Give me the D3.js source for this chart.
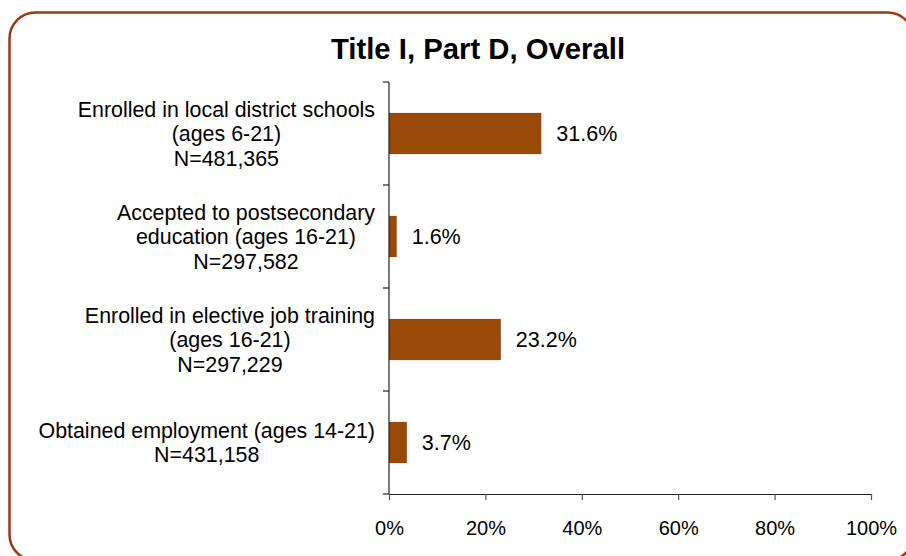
<!DOCTYPE html>
<html>
<head>
<meta charset="utf-8">
<script src="https://cdn.jsdelivr.net/npm/d3@7/dist/d3.min.js"></script>
<style>
  html, body { margin: 0; padding: 0; background: #fff; }
  svg { display: block; font-family: "Liberation Sans", Arial, sans-serif; }
</style>
</head>
<body>
<svg id="chart" width="906" height="556"></svg>
<script>
// Outcome categories (each label split into its display lines)
const categoryLines = [
  ["Enrolled in local district schools", "(ages 6-21)", "N=481,365"],
  ["Accepted to postsecondary", "education (ages 16-21)", "N=297,582"],
  ["Enrolled in elective job training", "(ages 16-21)", "N=297,229"],
  ["Obtained employment (ages 14-21)", "N=431,158"]
];
const categories = ["local", "postsecondary", "jobtraining", "employment"];
const percentValues = [31.6, 1.6, 23.2, 3.7];
const tickValues = [0, 20, 40, 60, 80, 100];
const titleText = "Title I, Part D, Overall";

const svg = d3.select("#chart");
const W = 906, H = 556;
const margin = { top: 82, right: 35, bottom: 62, left: 389 };

// Rounded frame around the whole chart
svg.append("rect")
  .attr("x", 9.5).attr("y", 12.5)
  .attr("width", 904).attr("height", 548)
  .attr("rx", 26).attr("ry", 26)
  .attr("fill", "#fff")
  .attr("stroke", "#9c3a12")
  .attr("stroke-width", 2.5);

svg.append("text")
  .attr("x", 478).attr("y", 59)
  .attr("text-anchor", "middle")
  .attr("font-size", 29.3)
  .attr("font-weight", "bold")
  .attr("fill", "#000")
  .text(titleText);

const x = d3.scaleLinear().domain([0, 100]).range([margin.left, 871]);
const yBand = d3.scaleBand().domain(categories).range([margin.top, H - margin.bottom]);
const barH = yBand.bandwidth() * 0.4;

// Bars
svg.append("g").selectAll("rect")
  .data(categories)
  .join("rect")
  .attr("x", x(0))
  .attr("y", d => yBand(d) + (yBand.bandwidth() - barH) / 2)
  .attr("width", (d, i) => x(percentValues[i]) - x(0))
  .attr("height", barH)
  .attr("fill", "#994a08");

// Value labels
svg.append("g").selectAll("text")
  .data(categories)
  .join("text")
  .attr("x", (d, i) => x(percentValues[i]) + 15)
  .attr("y", d => yBand(d) + yBand.bandwidth() / 2)
  .attr("dy", "0.36em")
  .attr("font-size", 21.5)
  .attr("fill", "#000")
  .text((d, i) => percentValues[i].toFixed(1) + "%");

// Y axis: line with ticks on band boundaries
const yAxisG = svg.append("g").attr("stroke", "#222").attr("stroke-width", 1.2);
yAxisG.append("line")
  .attr("x1", x(0)).attr("x2", x(0))
  .attr("y1", margin.top).attr("y2", H - margin.bottom);
const boundaries = categories.map(d => yBand(d)).concat([H - margin.bottom]);
yAxisG.selectAll("line.tick")
  .data(boundaries)
  .join("line")
  .attr("class", "tick")
  .attr("x1", x(0) - 6).attr("x2", x(0))
  .attr("y1", d => d).attr("y2", d => d);

// X axis
const xAxis = d3.axisBottom(x)
  .tickValues(tickValues)
  .tickSize(6)
  .tickSizeOuter(0)
  .tickFormat(d => d + "%");
const xg = svg.append("g")
  .attr("transform", `translate(0,${H - margin.bottom})`)
  .call(xAxis);
xg.select(".domain").attr("stroke", "#222").attr("stroke-width", 1.2);
xg.selectAll(".tick line").attr("stroke", "#555").attr("stroke-width", 1.2);
xg.selectAll(".tick text")
  .attr("font-size", 20)
  .attr("font-family", "'Liberation Sans', Arial, sans-serif")
  .attr("fill", "#000")
  .attr("y", 27)
  .attr("dy", "0.71em");

// Category labels: multi-line, lines centered within the block, block right-aligned to the axis
const lineH = 24.5;
const labelG = svg.append("g");
categoryLines.forEach((lines, i) => {
  const cy = yBand(categories[i]) + yBand.bandwidth() / 2;
  const g = labelG.append("g");
  const texts = lines.map((ln, k) =>
    g.append("text")
      .attr("font-size", 21.4)
      .attr("fill", "#000")
      .attr("text-anchor", "middle")
      .attr("y", cy + (k - (lines.length - 1) / 2) * lineH)
      .attr("dy", "0.36em")
      .text(ln)
  );
  const maxW = d3.max(texts, t => t.node().getComputedTextLength());
  const cx = 375 - maxW / 2;
  texts.forEach(t => t.attr("x", cx));
});
</script>
</body>
</html>
